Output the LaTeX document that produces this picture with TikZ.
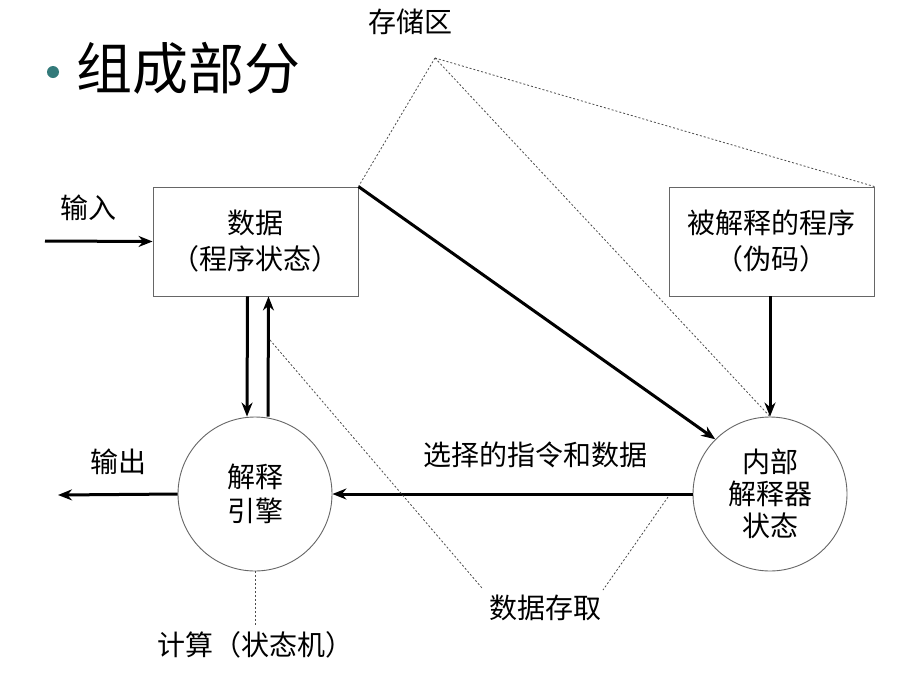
\documentclass[tikz,border=0pt]{standalone}
\usepackage{fontspec}
\setmainfont{Liberation Serif}
\newfontfamily\cjk{Noto Sans CJK SC}
\usetikzlibrary{arrows.meta}
\begin{document}
\begin{tikzpicture}[x=1pt,y=-1pt,
  lbl/.style={font=\cjk\fontsize{28}{32}\selectfont,align=center,inner sep=0},
  box/.style={draw=black!60,line width=0.9pt,minimum width=205pt,minimum height=109pt,lbl},
  circ/.style={circle,draw=black!60,line width=0.9pt,minimum size=154pt,lbl},
  arr/.style={line width=3pt,-{Stealth[length=14pt,width=11pt]}},
  dsh/.style={dash pattern=on 2pt off 2pt,line width=0.8pt,black!70}]
\useasboundingbox (0,0) rectangle (901,686);
\fill[white] (0,0) rectangle (901,686);
\fill[teal!70!black!80] (53,72) circle (6);
\node[lbl,anchor=west,font=\cjk\fontsize{56}{60}\selectfont] (title) at (76,68) {组成部分};
\node[lbl] (store) at (410,22) {存储区};
\coordinate (sp) at (435,58);
\node[box] (data) at (255.5,241.5) {数据\\[4pt]（程序状态）};
\node[box] (prog) at (771.5,241.5) {被解释的程序\\[4pt]（伪码）};
\node[circ] (eng) at (255,494) {解释\\[2pt]引擎};
\node[circ] (st) at (770,494) {内部\\[0pt]解释器\\[0pt]状态};
\coordinate (in) at (45,241);
\coordinate (out) at (58,495);
\draw[arr] (in) -- (data.west);
\node[lbl] (inl) at (88,208) {输入};
\draw[arr] (eng.west) -- (out);
\node[lbl] (outl) at (118,462) {输出};
\draw[arr] ([xshift=-8pt]data.south) -- ([xshift=-8pt]eng.north);
\draw[arr] ([xshift=13pt]eng.north) -- ([xshift=13pt]data.south);
\draw[arr] (prog.south -| st.north) -- (st.north);
\draw[arr] (data.north east) -- (st.135);
\draw[arr] (st.west) -- (eng.east);
\node[lbl] (sel) at (535,455) {选择的指令和数据};
\draw[dsh] (sp) -- (data.north east);
\draw[dsh] (sp) -- (st.north);
\draw[dsh] (sp) -- (prog.north east);
\node[lbl] (acc) at (545,608) {数据存取};
\draw[dsh] (270,340) -- (482,588);
\draw[dsh] (668,497) -- (603,590);
\draw[dsh] (eng.south) -- (255,625);
\node[lbl] (calc) at (255,645) {计算（状态机）};
\end{tikzpicture}
\end{document}
